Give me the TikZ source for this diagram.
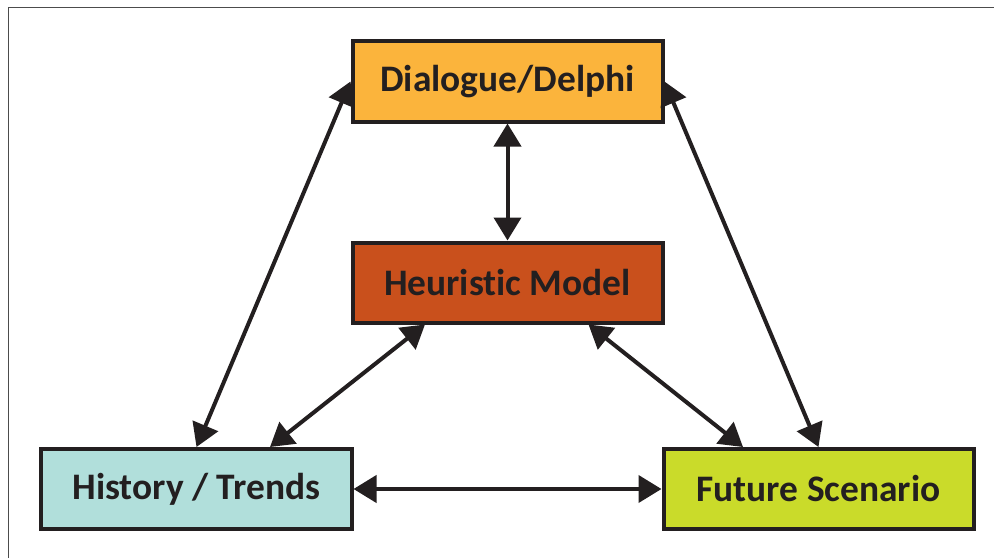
\documentclass[tikz,border=0pt]{standalone}
\usepackage{fontspec}
\setmainfont{Carlito}[Ligatures=NoCommon]
\usepackage{tikz}
\usetikzlibrary{arrows.meta}

\definecolor{inkdark}{HTML}{231F20}
\definecolor{delphiorange}{HTML}{FBB43C}
\definecolor{modelrust}{HTML}{C9501C}
\definecolor{historyteal}{HTML}{B1DFDB}
\definecolor{futurelime}{HTML}{CADB2A}

\begin{document}
\begin{tikzpicture}[font=\fontsize{21.3}{25}\selectfont\bfseries,
  box/.style={draw=inkdark, line width=0.08cm, text=inkdark,
    minimum width=6.2cm, minimum height=1.6cm, inner sep=0pt},
  link/.style={draw=inkdark, line width=0.08cm,
    {Triangle[length=0.46cm,width=0.54cm]}-{Triangle[length=0.46cm,width=0.54cm]}}]
\useasboundingbox (0,0) rectangle (19.88,11.16);
\draw[line width=0.03cm, black!70] (0.17,0) -- (0.17,11.01) -- (19.88,11.01);
\node[box, fill=delphiorange] (dialogue) at (10.15,9.53) {Dialogue/Delphi};
\node[box, fill=modelrust] (heuristic) at (10.15,5.51) {Heuristic Model};
\node[box, fill=historyteal] (history) at (3.93,1.38) {History / Trends};
\node[box, fill=futurelime] (future) at (16.37,1.38) {Future Scenario};
\draw[link] (dialogue) -- (heuristic);
\draw[link] (dialogue.west) -- (history.north);
\draw[link] (dialogue.east) -- (future.north);
\draw[link] ([xshift=-1.65cm]heuristic.south) -- ([xshift=1.47cm]history.north);
\draw[link] ([xshift=1.62cm]heuristic.south) -- ([xshift=-1.51cm]future.north);
\draw[link] (history) -- (future);
\end{tikzpicture}
\end{document}
